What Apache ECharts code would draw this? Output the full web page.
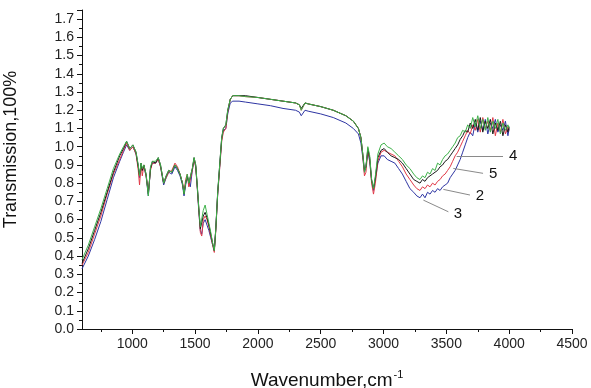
<!DOCTYPE html>
<html><head><meta charset="utf-8">
<script src="https://cdn.jsdelivr.net/npm/echarts@6/dist/echarts.min.js"></script>
<style>html,body{margin:0;padding:0;background:#fff}#c{width:591px;height:388px}</style>
</head><body><div id="c"></div>
<script>
// wavenumber grid (cm^-1)
const wavenumbers = [600,650,700,750,800,850,900,930,955,980,1005,1030,1048,1058,1070,1080,1092,1110,1128,1145,1160,1185,1207,1225,1250,1270,1290,1315,1340,1360,1380,1400,1412,1425,1438,1450,1462,1478,1492,1505,1518,1530,1542,1553,1565,1580,1595,1610,1625,1640,1653,1665,1680,1698,1712,1725,1745,1760,1780,1800,1850,1900,2000,2100,2200,2300,2330,2345,2360,2375,2400,2500,2600,2700,2760,2800,2820,2835,2848,2860,2875,2890,2905,2920,2935,2955,2980,3005,3030,3060,3090,3120,3150,3180,3210,3240,3265,3290,3310,3330,3350,3370,3390,3410,3430,3450,3470,3490,3510,3530,3550,3570,3590,3610,3630,3650,3670,3690,3710,3730,3750,3770,3790,3810,3830,3850,3870,3890,3910,3930,3950,3970,3990,4000];

const series4 = [0.38,0.46,0.56,0.66,0.77,0.88,0.96,1.00,1.03,0.99,1.01,0.97,0.90,0.84,0.91,0.88,0.90,0.85,0.73,0.89,0.92,0.92,0.94,0.90,0.80,0.84,0.87,0.86,0.90,0.88,0.85,0.80,0.74,0.80,0.85,0.80,0.79,0.88,0.94,0.90,0.78,0.66,0.56,0.55,0.65,0.68,0.63,0.58,0.53,0.47,0.43,0.55,0.75,0.92,1.05,1.10,1.12,1.20,1.26,1.28,1.28,1.275,1.27,1.26,1.25,1.24,1.23,1.20,1.22,1.24,1.235,1.22,1.20,1.17,1.14,1.10,1.05,0.96,0.86,0.89,1.00,0.95,0.82,0.77,0.84,0.96,1.01,1.02,1.00,0.99,0.97,0.95,0.93,0.90,0.88,0.85,0.83,0.82,0.84,0.83,0.86,0.85,0.88,0.87,0.91,0.90,0.93,0.95,0.96,0.98,1.00,1.02,1.05,1.06,1.09,1.08,1.12,1.10,1.16,1.11,1.17,1.10,1.15,1.09,1.16,1.08,1.14,1.10,1.15,1.07,1.13,1.09,1.12,1.10];
const series5 = [0.36,0.44,0.54,0.64,0.75,0.86,0.95,0.99,1.03,0.99,1.01,0.97,0.89,0.84,0.91,0.87,0.90,0.85,0.74,0.88,0.92,0.91,0.94,0.90,0.80,0.84,0.87,0.86,0.90,0.88,0.85,0.80,0.74,0.80,0.84,0.80,0.79,0.88,0.94,0.90,0.78,0.66,0.55,0.54,0.62,0.64,0.61,0.57,0.52,0.47,0.43,0.55,0.75,0.92,1.05,1.10,1.12,1.20,1.26,1.28,1.28,1.28,1.27,1.26,1.25,1.24,1.23,1.21,1.22,1.24,1.235,1.22,1.20,1.17,1.14,1.10,1.05,0.96,0.87,0.89,0.99,0.94,0.82,0.77,0.83,0.94,0.98,0.99,0.97,0.95,0.94,0.93,0.91,0.88,0.85,0.82,0.81,0.80,0.82,0.81,0.83,0.84,0.85,0.86,0.87,0.89,0.90,0.92,0.93,0.95,0.97,0.99,1.01,1.04,1.06,1.09,1.08,1.13,1.10,1.15,1.09,1.16,1.08,1.14,1.10,1.15,1.07,1.13,1.09,1.14,1.06,1.12,1.08,1.11];
const series2 = [0.35,0.42,0.52,0.62,0.74,0.85,0.93,0.98,1.02,0.98,1.00,0.96,0.87,0.79,0.90,0.84,0.90,0.84,0.75,0.87,0.91,0.91,0.93,0.89,0.80,0.83,0.86,0.87,0.91,0.89,0.85,0.80,0.75,0.82,0.85,0.78,0.77,0.87,0.93,0.89,0.77,0.65,0.53,0.51,0.60,0.62,0.60,0.56,0.51,0.46,0.42,0.54,0.74,0.90,1.03,1.08,1.10,1.19,1.26,1.28,1.28,1.275,1.27,1.26,1.25,1.24,1.23,1.20,1.21,1.24,1.235,1.22,1.20,1.17,1.14,1.10,1.05,0.95,0.84,0.86,0.98,0.93,0.80,0.74,0.80,0.92,0.97,0.98,0.97,0.96,0.95,0.92,0.89,0.85,0.82,0.79,0.77,0.76,0.78,0.77,0.79,0.78,0.80,0.79,0.81,0.82,0.84,0.85,0.87,0.89,0.92,0.95,0.97,1.00,1.03,1.06,1.09,1.07,1.12,1.09,1.15,1.08,1.16,1.10,1.14,1.09,1.16,1.06,1.13,1.08,1.15,1.07,1.11,1.09];
const series3 = [0.33,0.40,0.49,0.59,0.71,0.83,0.92,0.97,1.01,0.98,1.00,0.96,0.89,0.83,0.90,0.87,0.89,0.84,0.73,0.88,0.91,0.91,0.93,0.89,0.79,0.83,0.86,0.85,0.89,0.87,0.84,0.79,0.73,0.79,0.84,0.80,0.78,0.87,0.93,0.89,0.77,0.64,0.54,0.52,0.58,0.60,0.57,0.54,0.50,0.46,0.43,0.55,0.74,0.91,1.04,1.09,1.10,1.18,1.24,1.25,1.25,1.245,1.235,1.225,1.21,1.20,1.19,1.17,1.18,1.20,1.195,1.18,1.16,1.13,1.10,1.07,1.02,0.94,0.86,0.89,0.97,0.92,0.81,0.76,0.82,0.91,0.95,0.95,0.93,0.92,0.91,0.88,0.85,0.81,0.77,0.75,0.73,0.72,0.74,0.72,0.75,0.74,0.76,0.75,0.77,0.76,0.78,0.79,0.80,0.83,0.85,0.87,0.90,0.93,0.97,1.01,1.05,1.08,1.06,1.13,1.08,1.14,1.09,1.15,1.07,1.13,1.10,1.15,1.08,1.12,1.09,1.14,1.06,1.10];

const xLabelValues = [1000,1500,2000,2500,3000,3500,4000,4500];
const xMinorTickValues = [750,1250,1750,2250,2750,3250,3750,4250];
const curveNames = ['4','5','2','3'];
const curveColors = ['#3fb24a','#1a1a1a','#e23a48','#2e35a3'];
// annotation leader lines: [start, end] in data coordinates
const leaderStart = [[3582,0.948],[3555,0.881],[3476,0.766],[3317,0.707]];
const leaderEnd = [[3951,0.948],[3792,0.854],[3688,0.735],[3516,0.643]];

const values = [series4, series5, series2, series3];
const font = '"Liberation Sans", Arial, sans-serif';

const chart = echarts.init(document.getElementById('c'), null, {renderer:'canvas'});
const drawOrder = [3,2,1,0];
const seriesList = drawOrder.map(i => ({
  type:'line', name: curveNames[i], showSymbol:false, symbol:'none',
  data: wavenumbers.map((w,k)=>[w, values[i][k]]),
  lineStyle:{width:1, color:curveColors[i]}, itemStyle:{color:curveColors[i]},
  z: 2
}));
seriesList.push({
  type:'line', data:[], symbol:'none',
  markLine:{
    silent:true, symbol:['none','none'],
    lineStyle:{color:'#8a8a8a', width:1, type:'solid'},
    label:{show:true, position:'end', color:'#111', fontSize:15, fontFamily:font, distance:6},
    data: curveNames.map((n,i)=>[{coord:leaderStart[i]},{coord:leaderEnd[i], name:n, label:{formatter:n}}])
  }
});

chart.setOption({
  animation:false,
  backgroundColor:'#fff',
  grid:{left:82, right:19, top:10, bottom:59, outerBoundsMode:'none', containLabel:false},
  xAxis:[{
    type:'value', min:600, max:4500,
    name:'{a|Wavenumber,cm}{s|-1}', nameLocation:'middle', nameGap:40,
    nameTextStyle:{rich:{a:{fontSize:19, fontFamily:font, color:'#111', verticalAlign:'bottom'}, s:{fontSize:11, fontFamily:font, color:'#111', verticalAlign:'top', padding:[0,0,10,1]}}},
    axisLine:{show:true, lineStyle:{color:'#111', width:1}},
    axisTick:{show:true, length:5, lineStyle:{color:'#111'}, customValues:xLabelValues},
    axisLabel:{color:'#222', fontSize:14, fontFamily:font, margin:8, customValues:xLabelValues, formatter:v=>String(v)},
    splitLine:{show:false}
  },{
    type:'value', min:600, max:4500, position:'bottom', gridIndex:0,
    axisLine:{show:false},
    axisTick:{show:true, length:3, lineStyle:{color:'#111'}, customValues:xMinorTickValues},
    axisLabel:{show:false}, splitLine:{show:false}
  }],
  yAxis:{
    type:'value', min:0, max:1.75, interval:0.1,
    name:'Transmission,100%', nameLocation:'middle', nameGap:62,
    nameTextStyle:{fontSize:18, fontFamily:font, color:'#111', padding:[0,0,0,40]},
    axisLine:{show:true, lineStyle:{color:'#111', width:1}},
    axisTick:{show:true, length:5, lineStyle:{color:'#111'}},
    minorTick:{show:true, splitNumber:2, length:3, lineStyle:{color:'#111'}},
    axisLabel:{color:'#222', fontSize:14, fontFamily:font, margin:8, showMaxLabel:false, formatter:v=>v.toFixed(1)},
    splitLine:{show:false}
  },
  series: seriesList
});
</script></body></html>
